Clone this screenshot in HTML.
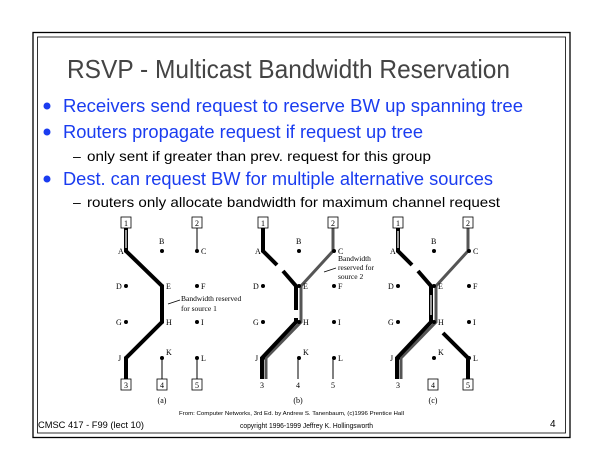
<!DOCTYPE html>
<html><head><meta charset="utf-8"><style>
html,body{margin:0;padding:0;background:#fff;}
body{width:605px;height:467px;position:relative;overflow:hidden;font-family:"Liberation Sans",Arial,sans-serif;}
</style></head><body>
<svg width="605" height="467" viewBox="0 0 605 467" xmlns="http://www.w3.org/2000/svg" style="position:absolute;left:0;top:0">
<rect x="33" y="32.5" width="537" height="405" fill="none" stroke="#000" stroke-width="1.3"/>
<rect x="37.5" y="37" width="528" height="396" fill="none" stroke="#000" stroke-width="0.8"/>
<text x="67" y="78" font-size="26" fill="#444" font-family="Liberation Sans, sans-serif" textLength="443" lengthAdjust="spacingAndGlyphs">RSVP - Multicast Bandwidth Reservation</text>
<g fill="#1a3cf0" font-size="18.5" font-family="Liberation Sans, sans-serif">
<circle cx="47" cy="106" r="3.5"/><text x="63" y="112" textLength="460" lengthAdjust="spacingAndGlyphs">Receivers send request to reserve BW  up spanning tree</text>
<circle cx="47" cy="132" r="3.5"/><text x="63" y="138" textLength="360" lengthAdjust="spacingAndGlyphs">Routers propagate request if request up tree</text>
<circle cx="47" cy="179" r="3.5"/><text x="63" y="185" textLength="430" lengthAdjust="spacingAndGlyphs">Dest. can request BW for multiple alternative sources</text>
</g>
<g fill="#000" font-size="14" font-family="Liberation Sans, sans-serif">
<text x="73" y="161">–</text><text x="87" y="161" textLength="344" lengthAdjust="spacingAndGlyphs">only sent if greater than prev. request for this group</text>
<text x="73" y="207">–</text><text x="87" y="207" textLength="413" lengthAdjust="spacingAndGlyphs">routers only allocate bandwidth for maximum channel request</text>
</g>

<g font-family="Liberation Serif, serif" font-size="8" fill="#000">
<!-- (a) -->
<g>
<line x1="197" y1="228" x2="197" y2="251" stroke="#000"/>
<line x1="162" y1="358" x2="162" y2="379" stroke="#000"/>
<line x1="197" y1="358" x2="197" y2="379" stroke="#000"/>
<polyline points="126,228 126,251 162,286 162,322 126,358 126,379" fill="none" stroke="#000" stroke-width="4"/>
<line x1="126" y1="230" x2="126" y2="248" stroke="#fff" stroke-width="1.2"/>
<line x1="168" y1="304" x2="180" y2="300" stroke="#000" stroke-width="0.8"/>
<text x="181" y="301" font-size="7.5">Bandwidth reserved</text>
<text x="181" y="311" font-size="7.5">for source 1</text>
</g>
<!-- (b) -->
<g>
<line x1="298" y1="358" x2="298" y2="379" stroke="#000"/>
<line x1="333" y1="358" x2="333" y2="379" stroke="#000"/>
<polyline points="333,228 333,251 301,286 301,322 266,358 266,379" fill="none" stroke="#555" stroke-width="3"/>
<polyline points="263,228 263,251 277,265" fill="none" stroke="#000" stroke-width="4"/>
<polyline points="283,271 296,286 296,310" fill="none" stroke="#000" stroke-width="4"/>
<polyline points="296,318 296,322 262,358 262,379" fill="none" stroke="#000" stroke-width="4"/>
<line x1="324" y1="272" x2="336" y2="268" stroke="#000" stroke-width="0.8"/>
<text x="338" y="261" font-size="7.5">Bandwidth</text>
<text x="338" y="270" font-size="7.5">reserved for</text>
<text x="338" y="279" font-size="7.5">source 2</text>
<text x="262" y="388" font-size="8" text-anchor="middle">3</text>
<text x="298" y="388" font-size="8" text-anchor="middle">4</text>
<text x="333" y="388" font-size="8" text-anchor="middle">5</text>
</g>
<!-- (c) -->
<g>
<polyline points="468,228 468,251 436,286 436,322 401,358 401,379" fill="none" stroke="#555" stroke-width="3"/>
<polyline points="398,228 398,251 412,265" fill="none" stroke="#000" stroke-width="4"/>
<polyline points="418,271 431,286 431,322 397,358 397,379" fill="none" stroke="#000" stroke-width="4"/>
<polyline points="443,333 468,358 468,379" fill="none" stroke="#000" stroke-width="4"/>
<line x1="398" y1="231" x2="398" y2="248" stroke="#fff" stroke-width="1.2"/>
<line x1="431" y1="295" x2="431" y2="315" stroke="#fff" stroke-width="1.2"/>
<text x="398" y="388" font-size="8" text-anchor="middle">3</text>
</g>
<!-- nodes and labels -->
<g id="nodes">
<circle cx="126" cy="251" r="2"/><circle cx="162" cy="251" r="2"/><circle cx="197" cy="251" r="2"/>
<circle cx="126" cy="286" r="2"/><circle cx="162" cy="286" r="2"/><circle cx="197" cy="286" r="2"/>
<circle cx="126" cy="322" r="2"/><circle cx="162" cy="322" r="2"/><circle cx="197" cy="322" r="2"/>
<circle cx="126" cy="358" r="2"/><circle cx="162" cy="358" r="2"/><circle cx="197" cy="358" r="2"/>
<text x="118" y="254">A</text><text x="159" y="244">B</text><text x="201" y="254">C</text>
<text x="116" y="289">D</text><text x="166" y="289">E</text><text x="201" y="289">F</text>
<text x="116" y="325">G</text><text x="166" y="325">H</text><text x="201" y="325">I</text>
<text x="118" y="361">J</text><text x="166" y="355">K</text><text x="201" y="361">L</text>
</g>
<use href="#nodes" x="137"/>
<use href="#nodes" x="272"/>
<!-- boxes -->
<g fill="#fff" stroke="#000" stroke-width="0.8">
<rect x="121" y="217" width="10" height="11"/><rect x="192" y="217" width="10" height="11"/>
<rect x="121" y="379" width="10" height="11"/><rect x="157" y="379" width="10" height="11"/><rect x="192" y="379" width="10" height="11"/>
<rect x="258" y="217" width="10" height="11"/><rect x="328" y="217" width="10" height="11"/>
<rect x="393" y="217" width="10" height="11"/><rect x="463" y="217" width="10" height="11"/>
<rect x="428" y="379" width="10" height="11"/><rect x="463" y="379" width="10" height="11"/>
</g>
<g font-size="8" text-anchor="middle">
<text x="126" y="226">1</text><text x="197" y="226">2</text>
<text x="126" y="388">3</text><text x="162" y="388">4</text><text x="197" y="388">5</text>
<text x="263" y="226">1</text><text x="333" y="226">2</text>
<text x="398" y="226">1</text><text x="468" y="226">2</text>
<text x="433" y="388">4</text><text x="468" y="388">5</text>
<text x="162" y="403">(a)</text><text x="298" y="403">(b)</text><text x="433" y="403">(c)</text>
</g>
</g>
<text x="179" y="415" font-size="5.5" textLength="225" lengthAdjust="spacingAndGlyphs">From: Computer Networks, 3rd Ed. by Andrew S. Tanenbaum, (c)1996 Prentice Hall</text>
<text x="240" y="428" font-size="7" textLength="133" lengthAdjust="spacingAndGlyphs">copyright 1996-1999 Jeffrey K. Hollingsworth</text>
<text x="38" y="428" font-size="9" textLength="106" lengthAdjust="spacingAndGlyphs">CMSC 417 - F99  (lect 10)</text>
<text x="550" y="427" font-size="10">4</text>
</svg>
</body></html>
